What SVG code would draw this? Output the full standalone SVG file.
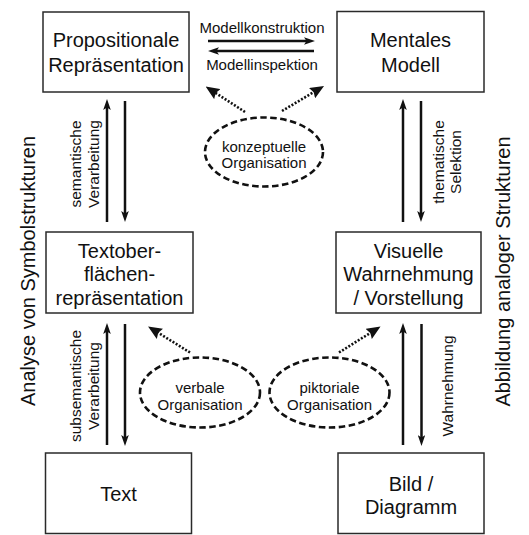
<svg xmlns="http://www.w3.org/2000/svg" width="529" height="535" viewBox="0 0 529 535">
<style>
text{font-family:"Liberation Sans",Arial,sans-serif;fill:#111;}
.big{font-size:20px;text-anchor:middle;}
.sm{font-size:15px;text-anchor:middle;}
.rs{font-size:15.5px;text-anchor:middle;}
.box{fill:#fff;stroke:#2a2a2a;stroke-width:1.5;}
.arr{stroke:#111;stroke-width:2.5;fill:none;marker-end:url(#ah);}
.dot{stroke:#111;stroke-width:2.6;fill:none;stroke-dasharray:2 1.7;marker-end:url(#dh);}
.ell{fill:none;stroke:#111;stroke-width:2.6;stroke-dasharray:6.5 3.5;}
</style>
<defs>
<marker id="ah" viewBox="0 0 11 7.6" refX="4" refY="3.8" markerWidth="11" markerHeight="7.6" markerUnits="userSpaceOnUse" orient="auto">
<path d="M0,0 L11,3.8 L0,7.6 L2.5,3.8 z" fill="#111"/>
</marker>
<marker id="dh" viewBox="0 0 14 12" refX="5" refY="6" markerWidth="14" markerHeight="12" markerUnits="userSpaceOnUse" orient="auto">
<path d="M0,0 L14,6 L0,12 L2,6 z" fill="#111"/>
</marker>
</defs>

<g id="node-propositionale">
<rect class="box" x="43" y="12" width="146" height="80"/>
<text class="big" x="116" y="46.5">Propositionale</text>
<text class="big" x="116" y="71.5">Repräsentation</text>
</g>
<g id="node-mentales">
<rect class="box" x="337" y="11.5" width="147" height="80.5"/>
<text class="big" x="410.5" y="46.5">Mentales</text>
<text class="big" x="410.5" y="71.5">Modell</text>
</g>
<g id="node-textoberflaeche">
<rect class="box" x="46" y="232" width="147" height="81"/>
<text class="big" x="119.5" y="257.5">Textober-</text>
<text class="big" x="119.5" y="281">flächen-</text>
<text class="big" x="119.5" y="304.5">repräsentation</text>
</g>
<g id="node-visuelle">
<rect class="box" x="336" y="232" width="145" height="81"/>
<text class="big" x="408.5" y="257.5">Visuelle</text>
<text class="big" x="408.5" y="281">Wahrnehmung</text>
<text class="big" x="408.5" y="304.5">/ Vorstellung</text>
</g>
<g id="node-text">
<rect class="box" x="45.5" y="453" width="146" height="80.5"/>
<text class="big" x="118.5" y="500.5">Text</text>
</g>
<g id="node-bild">
<rect class="box" x="338" y="453" width="146" height="80.5"/>
<text class="big" x="411" y="490.5">Bild /</text>
<text class="big" x="411" y="514">Diagramm</text>
</g>
<g id="node-konzeptuelle">
<ellipse class="ell" cx="264" cy="152" rx="59" ry="34.5"/>
<text class="sm" x="264" y="151.5">konzeptuelle</text>
<text class="sm" x="264" y="168">Organisation</text>
</g>
<g id="node-verbale">
<ellipse class="ell" cx="200" cy="392.5" rx="60" ry="35"/>
<text class="sm" x="200" y="393">verbale</text>
<text class="sm" x="200" y="409.5">Organisation</text>
</g>
<g id="node-piktoriale">
<ellipse class="ell" cx="329.5" cy="392.5" rx="60" ry="35"/>
<text class="sm" x="329.5" y="393">piktoriale</text>
<text class="sm" x="329.5" y="409.5">Organisation</text>
</g>

<g id="connectors">
<line class="arr" x1="208" y1="41" x2="308" y2="41"/>
<line class="arr" x1="314" y1="51" x2="215" y2="51"/>
<line class="arr" x1="107" y1="222" x2="107" y2="106"/>
<line class="arr" x1="125" y1="101" x2="125" y2="215"/>
<line class="arr" x1="403" y1="222" x2="403" y2="106"/>
<line class="arr" x1="421" y1="101" x2="421" y2="215"/>
<line class="arr" x1="107" y1="445" x2="107" y2="330"/>
<line class="arr" x1="125" y1="324" x2="125" y2="439"/>
<line class="arr" x1="403" y1="445" x2="403" y2="330"/>
<line class="arr" x1="421.5" y1="324" x2="421.5" y2="439"/>
<line class="dot" x1="245" y1="112" x2="213.2" y2="91.4"/>
<line class="dot" x1="282" y1="111" x2="316.3" y2="90.6"/>
<line class="dot" x1="190" y1="352.5" x2="155.7" y2="331.2"/>
<line class="dot" x1="339" y1="352.5" x2="372.9" y2="331.3"/>
</g>

<g id="labels">
<text class="sm" x="262" y="32.5">Modellkonstruktion</text>
<text class="sm" x="262" y="69.5">Modellinspektion</text>
<text class="rs" transform="translate(80.5,164) rotate(-90)">semantische</text>
<text class="rs" transform="translate(98.5,164) rotate(-90)">Verarbeitung</text>
<text class="rs" transform="translate(444,162) rotate(-90)">thematische</text>
<text class="rs" transform="translate(461,162) rotate(-90)">Selektion</text>
<text class="rs" transform="translate(80.5,386) rotate(-90)">subsemantische</text>
<text class="rs" transform="translate(98.5,386) rotate(-90)">Verarbeitung</text>
<text class="rs" transform="translate(453,386) rotate(-90)">Wahrnehmung</text>
<text class="big" transform="translate(35,271) rotate(-90)">Analyse von Symbolstrukturen</text>
<text class="big" transform="translate(510,271.5) rotate(-90)">Abbildung analoger Strukturen</text>
</g>
</svg>
